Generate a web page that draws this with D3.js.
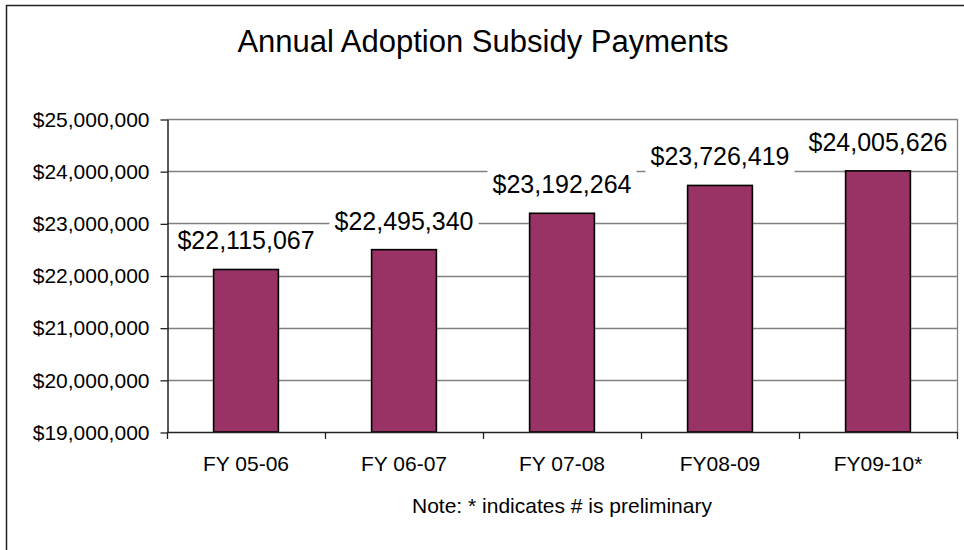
<!DOCTYPE html>
<html>
<head>
<meta charset="utf-8">
<script src="https://cdn.jsdelivr.net/npm/d3@7"></script>
<style>
  body { margin: 0; background: #fff; }
  svg { display: block; font-family: Arial, "Liberation Sans", sans-serif; }
</style>
</head>
<body>
<div id="chart"></div>
<script>
var width = 964;
var height = 550;

// data
var categories = ['FY 05-06', 'FY 06-07', 'FY 07-08', 'FY08-09', 'FY09-10*'];
var payments = [22115067, 22495340, 23192264, 23726419, 24005626];
var yTicks = [19000000, 20000000, 21000000, 22000000, 23000000, 24000000, 25000000];

var plot = { left: 167, right: 957, top: 119, bottom: 432 };

var svg = d3.select('#chart')
    .append('svg')
    .attr('width', width)
    .attr('height', height);

svg.append('rect')
    .attr('width', width)
    .attr('height', height)
    .attr('fill', '#fff');

// outer chart frame (only left and top edges fall inside the picture)
svg.append('rect')
    .attr('x', 6.5)
    .attr('y', 5.5)
    .attr('width', width + 20)
    .attr('height', height + 20)
    .attr('fill', 'none')
    .attr('stroke', '#222')
    .attr('stroke-width', 1.5);

svg.append('text')
    .attr('x', 483)
    .attr('y', 52)
    .attr('text-anchor', 'middle')
    .attr('font-size', 31)
    .attr('fill', '#000')
    .text('Annual Adoption Subsidy Payments');

var x = d3.scaleBand()
    .domain(categories)
    .range([plot.left, plot.right])
    .paddingInner(0.59)
    .paddingOuter(0.295);

var y = d3.scaleLinear()
    .domain([19000000, 25000000])
    .range([plot.bottom, plot.top]);

var fmt = d3.format(',');

// gridlines
svg.append('g')
    .selectAll('line')
    .data(yTicks.slice(1))
    .enter()
    .append('line')
    .attr('x1', plot.left)
    .attr('x2', plot.right)
    .attr('y1', d => Math.round(y(d)) + 0.5)
    .attr('y2', d => Math.round(y(d)) + 0.5)
    .attr('stroke', '#808080')
    .attr('stroke-width', 1.3);

// right edge of plot area
svg.append('line')
    .attr('x1', plot.right + 0.5)
    .attr('x2', plot.right + 0.5)
    .attr('y1', plot.top)
    .attr('y2', plot.bottom)
    .attr('stroke', '#808080')
    .attr('stroke-width', 1.3);

// y axis
var yAxis = d3.axisLeft(y)
    .tickValues(yTicks)
    .tickSize(7)
    .tickSizeOuter(0)
    .tickPadding(11)
    .tickFormat(d => '$' + fmt(d));

var gy = svg.append('g')
    .attr('transform', 'translate(' + (plot.left + 0.5) + ',0.5)')
    .call(yAxis);
gy.select('.domain').attr('stroke', '#222').attr('stroke-width', 1.5);
gy.selectAll('.tick line').attr('stroke', '#222').attr('stroke-width', 1.3);
gy.selectAll('.tick text')
    .attr('font-family', 'Arial, "Liberation Sans", sans-serif')
    .attr('font-size', 21)
    .attr('fill', '#000');

// bars
svg.append('g')
    .selectAll('rect')
    .data(payments)
    .enter()
    .append('rect')
    .attr('x', (d, i) => x(categories[i]))
    .attr('y', d => y(d))
    .attr('width', x.bandwidth())
    .attr('height', d => plot.bottom - y(d))
    .attr('fill', '#993366')
    .attr('stroke', '#000')
    .attr('stroke-width', 1.6);

// x axis line and category boundary ticks
svg.append('line')
    .attr('x1', plot.left)
    .attr('x2', plot.right)
    .attr('y1', plot.bottom + 0.5)
    .attr('y2', plot.bottom + 0.5)
    .attr('stroke', '#222')
    .attr('stroke-width', 1.5);

var bounds = d3.range(categories.length + 1).map(i => plot.left + i * x.step());
svg.append('g')
    .selectAll('line')
    .data(bounds)
    .enter()
    .append('line')
    .attr('x1', d => Math.round(d) + 0.5)
    .attr('x2', d => Math.round(d) + 0.5)
    .attr('y1', plot.bottom)
    .attr('y2', plot.bottom + 7)
    .attr('stroke', '#222')
    .attr('stroke-width', 1.3);

svg.append('g')
    .selectAll('text')
    .data(categories)
    .enter()
    .append('text')
    .attr('x', d => x(d) + x.bandwidth() / 2)
    .attr('y', 471)
    .attr('text-anchor', 'middle')
    .attr('font-size', 21)
    .attr('fill', '#000')
    .text(d => d);

// data labels with white boxes that hide the gridlines behind them
var labels = svg.append('g')
    .selectAll('g')
    .data(payments)
    .enter()
    .append('g')
    .attr('transform', (d, i) => 'translate(' + (x(categories[i]) + x.bandwidth() / 2) + ',' + (y(d) - 20) + ')');

var labelText = labels.append('text')
    .attr('text-anchor', 'middle')
    .attr('font-size', 25)
    .attr('fill', '#000')
    .text(d => '$' + fmt(d));

labels.each(function() {
    var g = d3.select(this);
    var bb = g.select('text').node().getBBox();
    g.insert('rect', 'text')
        .attr('x', bb.x - 5)
        .attr('y', -24)
        .attr('width', bb.width + 10)
        .attr('height', 34)
        .attr('fill', '#fff');
});

svg.append('text')
    .attr('x', (plot.left + plot.right) / 2)
    .attr('y', 513)
    .attr('text-anchor', 'middle')
    .attr('font-size', 21)
    .attr('fill', '#000')
    .text('Note: * indicates # is preliminary');
</script>
</body>
</html>
